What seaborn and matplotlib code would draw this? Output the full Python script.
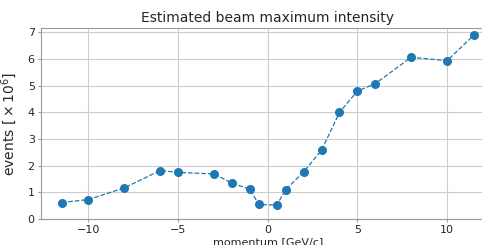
import numpy as np
import matplotlib
matplotlib.use("Agg")
import matplotlib.pyplot as plt
import seaborn as sns

momentum = [-11.5, -10, -8, -6, -5, -3, -2, -1, -0.5, 0.5, 1, 2, 3, 4, 5, 6, 8, 10, 11.5]
events = [0.62, 0.73, 1.17, 1.82, 1.75, 1.69, 1.35, 1.12, 0.55, 0.52, 1.10, 1.77, 2.58, 4.0, 4.8, 5.08, 6.07, 5.94, 6.9]

sns.set_style("whitegrid")
plt.rcParams['font.family'] = ['DejaVu Sans']

fig = plt.figure(figsize=(4.82, 2.45), dpi=100)
ax = fig.add_axes([0.085, 0.106, 0.941, 0.78])

sns.lineplot(x=momentum, y=events, marker="o", linestyle="--", linewidth=0.9,
             markersize=6.5, markeredgewidth=0, color="#1f77b4", ax=ax)
line = ax.lines[0]
line.set_markerfacecolor("#1f77b4")

ax.set_xlim(-12.65, 12.65)
ax.set_ylim(0, 7.17)
ax.set_xticks([-10, -5, 0, 5, 10])
ax.set_yticks(range(0, 8))
ax.tick_params(labelsize=8, pad=2, length=2.5, color="0.6", width=0.8, bottom=True, left=True)
for s in ax.spines.values():
    s.set_color("0.6")
ax.set_title("Estimated beam maximum intensity", fontsize=10, pad=4)
ax.set_xlabel("momentum [GeV/c]", fontsize=8, labelpad=1)
ax.set_ylabel(r"events $[{}\times 10^6]$", fontsize=10, labelpad=6)

fig.savefig("out.png", dpi=100)
